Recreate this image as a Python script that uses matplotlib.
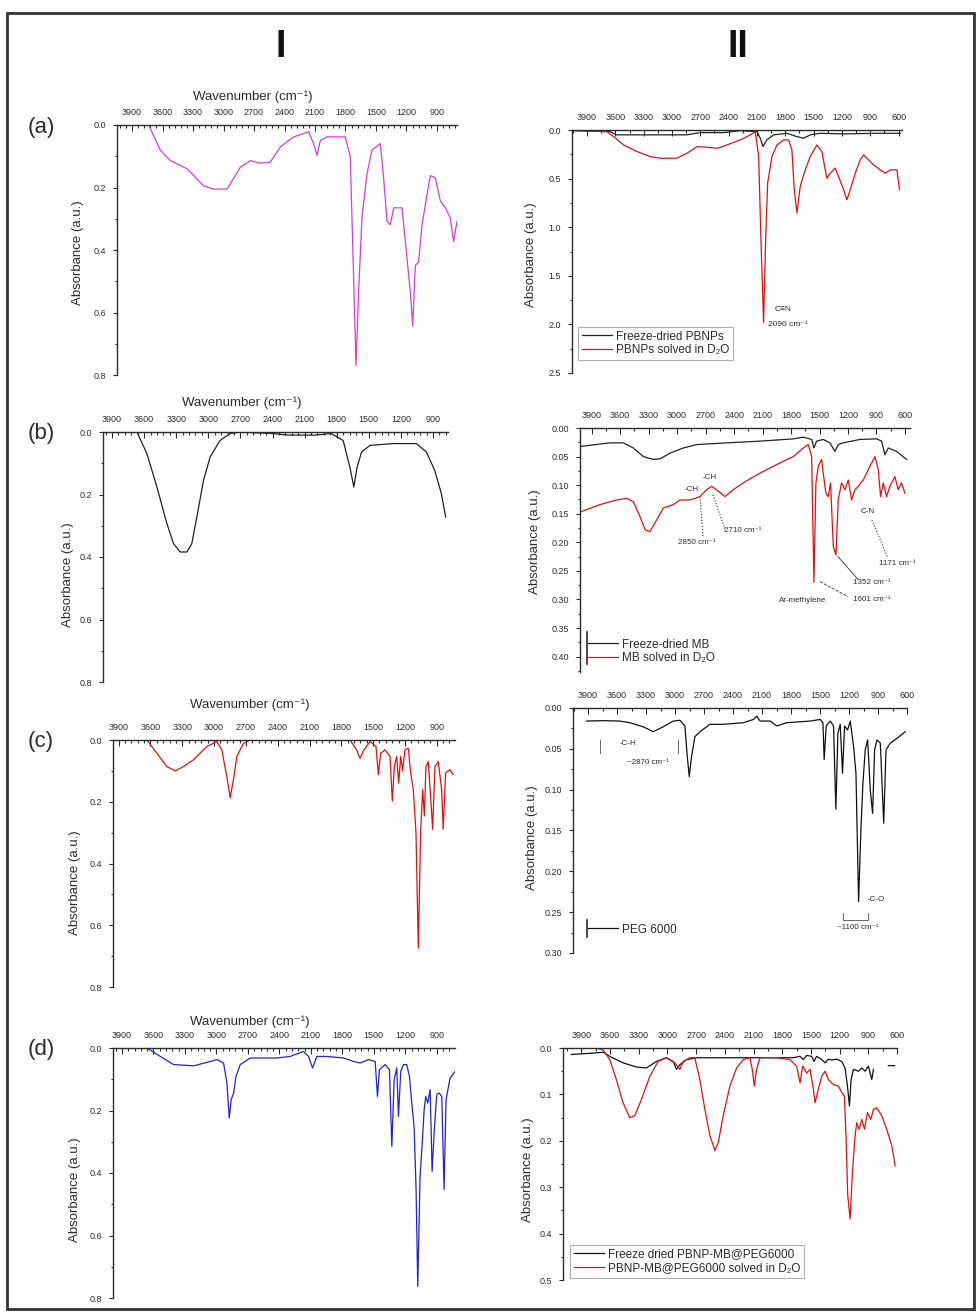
import numpy as np
import matplotlib
matplotlib.use('Agg')
import matplotlib.pyplot as plt
from matplotlib.ticker import MultipleLocator, FormatStrFormatter
from matplotlib.patches import Rectangle

plt.rcParams['font.family'] = ['Liberation Sans', 'DejaVu Sans']

# ---------------- data (wavenumber cm-1, absorbance a.u.) ----------------
ia_pbnp = [(3736, 0.0), (3621, 0.081), (3523, 0.114), (3359, 0.14), (3195, 0.195), (3097, 0.205),
           (2965, 0.205), (2834, 0.135), (2736, 0.114), (2638, 0.122), (2540, 0.119), (2441, 0.07),
           (2310, 0.038), (2162, 0.022), (2113, 0.06), (2080, 0.097), (2047, 0.049), (1982, 0.038),
           (1802, 0.038), (1753, 0.10), (1720, 0.49), (1697, 0.77), (1671, 0.535), (1638, 0.297),
           (1589, 0.157), (1539, 0.08), (1457, 0.06), (1425, 0.168), (1392, 0.308), (1359, 0.319),
           (1326, 0.265), (1244, 0.265), (1211, 0.373), (1162, 0.535), (1139, 0.643), (1113, 0.449),
           (1080, 0.438), (1047, 0.319), (998, 0.222), (965, 0.162), (916, 0.168), (867, 0.243),
           (818, 0.265), (769, 0.297), (736, 0.373), (703, 0.308)]

ib_mb = [(3984, 0.0), (3667, 0.0), (3574, 0.069), (3480, 0.176), (3387, 0.293), (3325, 0.357),
         (3263, 0.384), (3200, 0.384), (3154, 0.357), (3107, 0.272), (3045, 0.155), (2983, 0.08),
         (2890, 0.027), (2796, 0.005), (2703, 0.0), (2400, 0.005), (2250, 0.01), (2000, 0.01),
         (1850, 0.005), (1740, 0.027), (1677, 0.112), (1640, 0.176), (1609, 0.112), (1568, 0.064),
         (1490, 0.043), (1273, 0.037), (1055, 0.037), (962, 0.064), (884, 0.123), (822, 0.197),
         (782, 0.272)]

ic_peg = [(3953, 0.0), (3633, 0.0), (3539, 0.043), (3445, 0.086), (3366, 0.10), (3288, 0.086),
          (3194, 0.064), (3068, 0.021), (2974, 0.005), (2927, 0.032), (2880, 0.118), (2848, 0.187),
          (2817, 0.128), (2785, 0.053), (2723, 0.011), (2660, 0.0), (1718, 0.0), (1655, 0.032),
          (1624, 0.059), (1586, 0.032), (1529, 0.005), (1473, 0.021), (1451, 0.112), (1429, 0.043),
          (1388, 0.032), (1341, 0.053), (1319, 0.198), (1300, 0.086), (1278, 0.053), (1259, 0.139),
          (1240, 0.053), (1222, 0.10), (1200, 0.032), (1168, 0.027), (1146, 0.107), (1121, 0.16),
          (1096, 0.30), (1074, 0.674), (1052, 0.30), (1033, 0.16), (1017, 0.246), (1002, 0.086),
          (980, 0.07), (958, 0.182), (939, 0.289), (917, 0.086), (886, 0.07), (854, 0.16),
          (839, 0.289), (817, 0.107), (776, 0.096), (745, 0.112)]

id_comp = [(3986, 0.0), (3662, 0.0), (3535, 0.027), (3408, 0.053), (3217, 0.057), (3090, 0.046),
           (2995, 0.037), (2932, 0.048), (2900, 0.112), (2878, 0.224), (2859, 0.165), (2836, 0.144),
           (2814, 0.091), (2773, 0.053), (2678, 0.032), (2551, 0.032), (2424, 0.032), (2297, 0.027),
           (2170, 0.011), (2122, 0.027), (2084, 0.064), (2043, 0.027), (1947, 0.027), (1789, 0.032),
           (1693, 0.043), (1630, 0.048), (1550, 0.037), (1487, 0.043), (1465, 0.155), (1446, 0.069),
           (1392, 0.053), (1351, 0.069), (1328, 0.315), (1306, 0.101), (1281, 0.064), (1265, 0.219),
           (1243, 0.075), (1217, 0.053), (1186, 0.053), (1160, 0.091), (1138, 0.176), (1116, 0.251),
           (1097, 0.453), (1081, 0.763), (1059, 0.411), (1036, 0.293), (1020, 0.197), (1005, 0.155),
           (986, 0.176), (963, 0.133), (944, 0.395), (925, 0.272), (900, 0.149), (878, 0.144),
           (852, 0.155), (830, 0.453), (811, 0.165), (773, 0.096), (725, 0.075)]

iia_dry = [(4059, 0.007), (3653, 0.017), (3590, 0.05), (3200, 0.05), (2850, 0.05), (2700, 0.027),
           (2450, 0.027), (2280, 0.007), (2100, 0.017), (2065, 0.085), (2037, 0.17), (1994, 0.10),
           (1924, 0.05), (1783, 0.034), (1677, 0.068), (1606, 0.085), (1536, 0.05), (1430, 0.034),
           (1183, 0.04), (830, 0.034), (583, 0.034)]
iia_d2o = [(4059, 0.0), (3688, 0.017), (3618, 0.068), (3512, 0.154), (3371, 0.222), (3229, 0.273),
           (3124, 0.29), (2947, 0.29), (2841, 0.239), (2735, 0.171), (2630, 0.177), (2524, 0.188),
           (2418, 0.154), (2277, 0.102), (2171, 0.051), (2118, 0.017), (2082, 0.273), (2058, 1.126),
           (2030, 1.98), (2008, 1.126), (1987, 0.546), (1941, 0.273), (1888, 0.154), (1818, 0.102),
           (1765, 0.102), (1730, 0.205), (1705, 0.614), (1677, 0.853), (1642, 0.58), (1589, 0.41),
           (1536, 0.273), (1465, 0.154), (1412, 0.222), (1377, 0.41), (1359, 0.495), (1324, 0.444),
           (1271, 0.392), (1236, 0.478), (1183, 0.614), (1147, 0.717), (1112, 0.614), (1059, 0.444),
           (1006, 0.307), (971, 0.256), (918, 0.307), (865, 0.358), (794, 0.41), (741, 0.444),
           (689, 0.41), (618, 0.41), (590, 0.614)]

iib_dry = [(4005, 0.032), (3707, 0.026), (3567, 0.026), (3461, 0.035), (3356, 0.05), (3251, 0.055),
           (3180, 0.054), (3075, 0.044), (2935, 0.035), (2794, 0.029), (2478, 0.026), (2127, 0.023),
           (1776, 0.019), (1671, 0.016), (1583, 0.02), (1559, 0.035), (1531, 0.023), (1461, 0.02),
           (1390, 0.026), (1338, 0.041), (1303, 0.029), (1250, 0.026), (1074, 0.02), (899, 0.019),
           (846, 0.023), (811, 0.047), (776, 0.035), (688, 0.041), (583, 0.055)]
iib_d2o = [(4005, 0.146), (3812, 0.134), (3637, 0.126), (3531, 0.123), (3461, 0.129), (3391, 0.155),
           (3338, 0.178), (3286, 0.181), (3216, 0.161), (3145, 0.14), (3040, 0.134), (2970, 0.126),
           (2865, 0.126), (2759, 0.12), (2689, 0.108), (2636, 0.102), (2584, 0.108), (2496, 0.12),
           (2408, 0.108), (2303, 0.096), (2127, 0.079), (1952, 0.064), (1776, 0.05), (1671, 0.035),
           (1618, 0.029), (1583, 0.05), (1559, 0.27), (1538, 0.096), (1513, 0.067), (1478, 0.055),
           (1461, 0.079), (1433, 0.114), (1408, 0.12), (1384, 0.096), (1355, 0.207), (1327, 0.222),
           (1303, 0.126), (1268, 0.096), (1232, 0.108), (1197, 0.091), (1162, 0.126), (1127, 0.108),
           (1092, 0.102), (1039, 0.091), (969, 0.067), (916, 0.05), (881, 0.073), (857, 0.12),
           (829, 0.096), (794, 0.12), (759, 0.102), (706, 0.085), (671, 0.108), (636, 0.096),
           (601, 0.114)]

iic_peg = [(3917, 0.016), (3744, 0.0155), (3572, 0.016), (3468, 0.018), (3330, 0.023), (3226, 0.029),
           (3122, 0.023), (3019, 0.016), (2950, 0.015), (2898, 0.022), (2874, 0.059), (2853, 0.084),
           (2829, 0.059), (2794, 0.035), (2742, 0.029), (2639, 0.02), (2500, 0.02), (2293, 0.018),
           (2189, 0.014), (2155, 0.01), (2120, 0.016), (2016, 0.016), (1947, 0.022), (1844, 0.018),
           (1602, 0.016), (1498, 0.014), (1470, 0.018), (1457, 0.063), (1436, 0.022), (1394, 0.016),
           (1360, 0.022), (1336, 0.124), (1315, 0.031), (1291, 0.02), (1267, 0.08), (1246, 0.022),
           (1215, 0.027), (1187, 0.016), (1153, 0.047), (1128, 0.08), (1101, 0.237), (1077, 0.149),
           (1056, 0.092), (1032, 0.051), (1007, 0.039), (980, 0.1), (956, 0.129), (935, 0.051),
           (911, 0.039), (876, 0.043), (841, 0.141), (817, 0.051), (772, 0.043), (703, 0.037),
           (617, 0.029)]

iid_dry = [(4005, 0.014), (3778, 0.011), (3673, 0.009), (3603, 0.018), (3464, 0.032), (3324, 0.041),
           (3219, 0.043), (3115, 0.029), (3010, 0.021), (2940, 0.029), (2905, 0.046), (2870, 0.036),
           (2801, 0.025), (2696, 0.021), (2207, 0.021), (1684, 0.021), (1614, 0.018), (1579, 0.025),
           (1544, 0.016), (1492, 0.018), (1468, 0.029), (1440, 0.018), (1387, 0.025), (1352, 0.032),
           (1317, 0.024), (1283, 0.026), (1230, 0.024), (1178, 0.029), (1143, 0.043), (1118, 0.082),
           (1097, 0.125), (1080, 0.068), (1056, 0.046), (1003, 0.05), (968, 0.043), (933, 0.05),
           (899, 0.039), (864, 0.068), (846, 0.046), (760, np.nan), (690, 0.038), (626, 0.038)]
iid_d2o = [(4092, 0.0), (3848, 0.0), (3743, 0.0), (3673, 0.004), (3603, 0.025), (3534, 0.068),
           (3464, 0.118), (3394, 0.15), (3342, 0.146), (3272, 0.111), (3184, 0.061), (3097, 0.029),
           (3010, 0.021), (2923, 0.032), (2870, 0.046), (2836, 0.029), (2766, 0.021), (2714, 0.021),
           (2661, 0.068), (2609, 0.132), (2556, 0.189), (2504, 0.221), (2469, 0.204), (2417, 0.146),
           (2347, 0.082), (2277, 0.043), (2207, 0.025), (2138, 0.021), (2113, 0.046), (2092, 0.082),
           (2068, 0.046), (2033, 0.021), (1858, 0.021), (1719, 0.025), (1649, 0.039), (1614, 0.075),
           (1586, 0.039), (1544, 0.054), (1509, 0.046), (1474, 0.089), (1457, 0.118), (1422, 0.089),
           (1387, 0.061), (1352, 0.05), (1317, 0.068), (1265, 0.079), (1213, 0.082), (1178, 0.096),
           (1150, 0.104), (1132, 0.196), (1115, 0.318), (1090, 0.368), (1066, 0.268), (1038, 0.189),
           (1021, 0.161), (996, 0.175), (968, 0.154), (940, 0.175), (909, 0.139), (874, 0.154),
           (846, 0.132), (811, 0.129), (759, 0.146), (708, 0.175), (654, 0.211), (619, 0.254)]

legend_a = ['Freeze-dried PBNPs', 'PBNPs solved in D\u2082O']
legend_b = ['Freeze-dried MB', 'MB solved in D\u2082O']
legend_c = ['PEG 6000']
legend_d = ['Freeze dried PBNP-MB@PEG6000', 'PBNP-MB@PEG6000 solved in D\u2082O']

# ---------------- figure ----------------
W, H = 979, 1312
fig = plt.figure(figsize=(W / 100, H / 100), dpi=100)
fig.patch.set_facecolor('white')
INK = '#2b2b2b'


def px(x, y):
    return x / W, 1 - y / H


def ax_at(l, r, t, b):
    return fig.add_axes([l / W, 1 - b / H, (r - l) / W, (b - t) / H])


def style(ax, xlim, ylim, ymaj, ymin, yfmt, xlast, xminor):
    ax.set_xlim(*xlim)
    ax.set_ylim(*ylim)
    ax.patch.set_alpha(0)
    for s in ['right', 'bottom']:
        ax.spines[s].set_visible(False)
    for s in ['left', 'top']:
        ax.spines[s].set_linewidth(1.0)
        ax.spines[s].set_color(INK)
    ax.xaxis.tick_top()
    ax.set_xticks(np.arange(3900, xlast - 1, -300))
    ax.xaxis.set_minor_locator(MultipleLocator(xminor))
    ax.tick_params(axis='x', which='both', direction='in', top=True, bottom=False,
                   labelsize=6.5, pad=6, colors=INK, width=0.8)
    ax.tick_params(axis='x', which='major', length=4)
    ax.tick_params(axis='x', which='minor', length=2)
    ax.yaxis.set_major_locator(MultipleLocator(ymaj))
    ax.yaxis.set_minor_locator(MultipleLocator(ymin))
    ax.yaxis.set_major_formatter(FormatStrFormatter(yfmt))
    ax.tick_params(axis='y', which='both', direction='out', labelsize=6.5, pad=5, colors=INK, width=0.8)
    ax.tick_params(axis='y', which='major', length=3)
    ax.tick_params(axis='y', which='minor', length=1.5)


def draw(ax, pts, color, label=None, lw=0.9):
    x = [p[0] for p in pts]
    y = [p[1] for p in pts]
    ax.plot(x, y, color=color, lw=lw, label=label)


# ----- column I -----
axIa = ax_at(117, 457, 125, 375)
style(axIa, (4048, 703), (0.8, 0), 0.2, 0.1, '%.1f', 900, 60)
draw(axIa, ia_pbnp, '#d63cd6')

axIb = ax_at(103, 448, 432, 682)
style(axIb, (3984, 760), (0.8, 0), 0.2, 0.1, '%.1f', 900, 60)
draw(axIb, ib_mb, '#222222')

axIc = ax_at(113, 455, 740, 987)
style(axIc, (3953, 728), (0.8, 0), 0.2, 0.1, '%.1f', 900, 60)
draw(axIc, ic_peg, '#e01010')

axId = ax_at(113, 455, 1048, 1298)
style(axId, (3986, 726), (0.8, 0), 0.2, 0.1, '%.1f', 900, 60)
draw(axId, id_comp, '#2323c8')

for (cx, cy) in [(253, 97), (242, 403), (250, 705), (250, 1022)]:
    fig.text(*px(cx, cy), 'Wavenumber (cm\u207b\u00b9)', fontsize=9.5, ha='center', va='center', color=INK)

# ----- column II -----
axIIa = ax_at(572, 902, 130, 373)
style(axIIa, (4059, 564), (2.5, 0), 0.5, 0.25, '%.1f', 600, 150)
draw(axIIa, iia_dry, '#222222', legend_a[0])
draw(axIIa, iia_d2o, '#e01010', legend_a[1])
axIIa.text(1909, 1.85, 'C\u2261N', fontsize=6, color=INK, va='center')
axIIa.text(1983, 2.0, '2090 cm\u207b\u00b9', fontsize=6, color=INK, va='center')

axIIb = ax_at(580, 910, 428, 672)
style(axIIb, (4023, 547), (0.427, 0), 0.05, 0.025, '%.2f', 600, 150)
draw(axIIb, iib_dry, '#222222', legend_b[0])
draw(axIIb, iib_d2o, '#e01010', legend_b[1])
ann = dict(fontsize=5.8, color=INK, ha='center', va='center')
axIIb.text(2843, 0.108, '-CH', **ann)
axIIb.text(2654, 0.087, '-CH', **ann)
axIIb.plot([2759, 2727], [0.12, 0.19], ls=':', lw=0.8, color=INK)
axIIb.text(2791, 0.201, '2850 cm\u207b\u00b9', **ann)
axIIb.plot([2622, 2496], [0.117, 0.177], ls=':', lw=0.8, color=INK)
axIIb.text(2306, 0.18, '2710 cm\u207b\u00b9', **ann)
axIIb.text(990, 0.146, 'C-N', **ann)
axIIb.plot([948, 779], [0.161, 0.228], ls=':', lw=0.8, color=INK)
axIIb.text(684, 0.237, '1171 cm\u207b\u00b9', **ann)
axIIb.plot([1306, 1095], [0.225, 0.265], lw=0.6, color=INK)
axIIb.text(951, 0.271, '1352 cm\u207b\u00b9', **ann)
axIIb.plot([1495, 1200], [0.269, 0.295], ls='--', lw=0.6, color=INK)
axIIb.text(1674, 0.302, 'Ar-methylene', **ann)
axIIb.text(951, 0.300, '1601 cm\u207b\u00b9', **ann)

axIIc = ax_at(573, 907, 708, 953)
style(axIIc, (4056, 600), (0.30, 0), 0.05, 0.025, '%.2f', 600, 150)
draw(axIIc, iic_peg, '#111111', legend_c[0])
axIIc.plot([3777, 3777], [0.039, 0.055], lw=0.7, color='#666')
axIIc.plot([2969, 2969], [0.039, 0.055], lw=0.7, color='#666')
axIIc.text(3570, 0.043, '-C-H', fontsize=5.8, color=INK, va='center')
axIIc.text(3497, 0.067, '~2870 cm\u207b\u00b9', fontsize=5.8, color=INK, va='center')
axIIc.plot([1262, 1262, 1003, 1003], [0.251, 0.26, 0.26, 0.251], lw=0.7, color='#666')
axIIc.text(1003, 0.235, '-C-O', fontsize=5.8, color=INK, va='center')
axIIc.text(1324, 0.269, '~1100 cm\u207b\u00b9', fontsize=5.8, color=INK, va='center')

axIId = ax_at(563, 897, 1048, 1280)
style(axIId, (4092, 600), (0.5, 0), 0.1, 0.05, '%.1f', 600, 150)
draw(axIId, iid_dry, '#111111', legend_d[0])
draw(axIId, iid_d2o, '#e01010', legend_d[1])

# legends
def legend(ax, x, y, frame, fs=8.5):
    lg = ax.legend(loc='upper left', bbox_to_anchor=px(x, y), bbox_transform=fig.transFigure,
                   fontsize=fs, frameon=frame, fancybox=False, borderaxespad=0, borderpad=0.3,
                   handlelength=2.6, handletextpad=0.3, labelspacing=0.15)
    if frame:
        lg.get_frame().set_edgecolor('#9a9a9a')
        lg.get_frame().set_linewidth(0.8)
    for t in lg.get_texts():
        t.set_color(INK)
    return lg

legend(axIIa, 578, 327, True)
legend(axIIb, 584, 635, False)
legend(axIIc, 584, 920, False)
legend(axIId, 570, 1245, True)

# small bars at the left of the frameless legends (as in the reference)
fig.add_artist(plt.Line2D([587 / W, 587 / W], [1 - 632 / H, 1 - 664 / H], color=INK, lw=1.2))
fig.add_artist(plt.Line2D([587 / W, 587 / W], [1 - 920 / H, 1 - 937 / H], color=INK, lw=1.2))

# y labels
for (cx, cy) in [(78, 253), (68, 575), (75, 883), (75, 1190),
                 (531, 255), (535, 542), (532, 838), (528, 1170)]:
    fig.text(*px(cx, cy), 'Absorbance (a.u.)', fontsize=9.5, rotation=90,
             ha='center', va='center', color=INK)

# headers and panel letters
fig.text(*px(281, 47), 'I', fontsize=27, fontweight='bold', ha='center', va='center', color='#111')
fig.text(*px(738, 47), 'II', fontsize=27, fontweight='bold', ha='center', va='center', color='#111')
for lab, cy in [('(a)', 128), ('(b)', 433), ('(c)', 742), ('(d)', 1050)]:
    fig.text(*px(41, cy), lab, fontsize=16, ha='center', va='center', color=INK)

# outer frame
fig.patches.append(Rectangle(px(7, 1309), (974 - 7) / W, (1309 - 13) / H, transform=fig.transFigure,
                             fill=False, lw=2, ec='#333333'))

fig.savefig('out.png', dpi=100, facecolor='white')
